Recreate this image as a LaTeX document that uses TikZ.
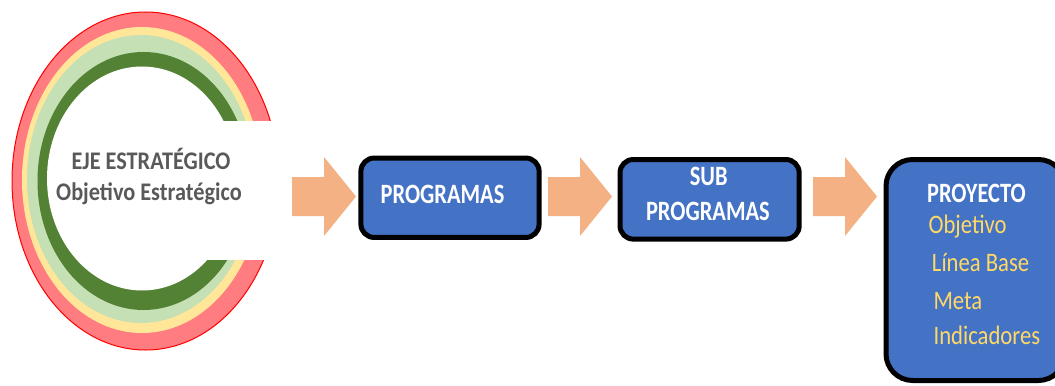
\documentclass[tikz,border=0pt]{standalone}
\usepackage{fontspec}
\setmainfont{Carlito}
\newfontfamily\boxfont[FakeStretch=0.8]{Carlito}
\newfontfamily\grayfont[FakeStretch=0.88]{Carlito}
\newfontfamily\yelfont[FakeStretch=0.85]{Carlito}
\definecolor{ringred}{HTML}{FF7C80}
\definecolor{ringyellow}{HTML}{FFE699}
\definecolor{ringlg}{HTML}{C5E0B4}
\definecolor{ringdg}{HTML}{548235}
\definecolor{peach}{HTML}{F4B183}
\definecolor{boxblue}{HTML}{4472C4}
\definecolor{txtgray}{HTML}{595959}
\definecolor{txtyellow}{HTML}{FFD966}
\begin{document}
\begin{tikzpicture}[x=0.75pt,y=-0.75pt,
  box/.style={draw=black, line width=3.75pt, fill=boxblue, rounded corners=10pt, inner sep=0pt},
  wtxt/.style={text=white, inner sep=0pt, anchor=base, font=\boxfont\fontsize{21pt}{24pt}\selectfont\bfseries},
  gtxt/.style={text=txtgray, inner sep=0pt, anchor=base, font=\grayfont\fontsize{19pt}{22pt}\selectfont\bfseries},
  ytxt/.style={text=txtyellow, inner sep=0pt, anchor=base west, font=\yelfont\fontsize{20pt}{23pt}\selectfont},
  blockarrow/.pic={\fill[peach] (0,-19.5) -- (32,-19.5) -- (32,-39.5) -- (64,0) -- (32,39.5) -- (32,19.5) -- (0,19.5) -- cycle;}
]
\useasboundingbox (0,0) rectangle (1055,385);
\fill[white] (0,0) rectangle (1055,385);
% rainbow ring
\filldraw[fill=ringred, draw=red, line width=0.75pt] (145.5,181) ellipse [x radius=133.5, y radius=169];
\fill[ringyellow] (142,180) ellipse [x radius=120, y radius=153];
\fill[ringlg] (141,179) ellipse [x radius=114, y radius=144];
\fill[ringdg] (143.5,181) ellipse [x radius=106, y radius=129];
\fill[white] (142,178.5) ellipse [x radius=95, y radius=112];
\fill[white] (200,121) rectangle (290,260);
\node[gtxt] (eje) at (151,169.3) {EJE ESTRATÉGICO};
\node[gtxt] (obj) at (149,200) {Objetivo Estratégico};
% arrows
\pic at (292,196.5) {blockarrow};
\pic at (548,196.5) {blockarrow};
\pic at (813,196.5) {blockarrow};
% boxes
\node[box, minimum width=133.65pt, minimum height=59.6pt] (prog) at (450,197.75) {};
\node[wtxt] (progt) at (442.5,203.3) {PROGRAMAS};
\node[box, minimum width=134.4pt, minimum height=59.7pt] (sub) at (709.6,199.3) {};
\node[wtxt] (subt1) at (708.7,185.5) {SUB};
\node[wtxt] (subt2) at (707.9,220.6) {PROGRAMAS};
\node[box, rounded corners=20pt, minimum width=134.25pt, minimum height=165.75pt] (proy) at (975.5,270) {};
\node[wtxt] (proyt) at (976.4,202.7) {PROYECTO};
\node[ytxt] (y1) at (928.3,233.5) {Objetivo};
\node[ytxt] (y2) at (931.7,271.7) {Línea Base};
\node[ytxt] (y3) at (933.3,309.3) {Meta};
\node[ytxt] (y4) at (933.3,344.3) {Indicadores};
\end{tikzpicture}
\end{document}
